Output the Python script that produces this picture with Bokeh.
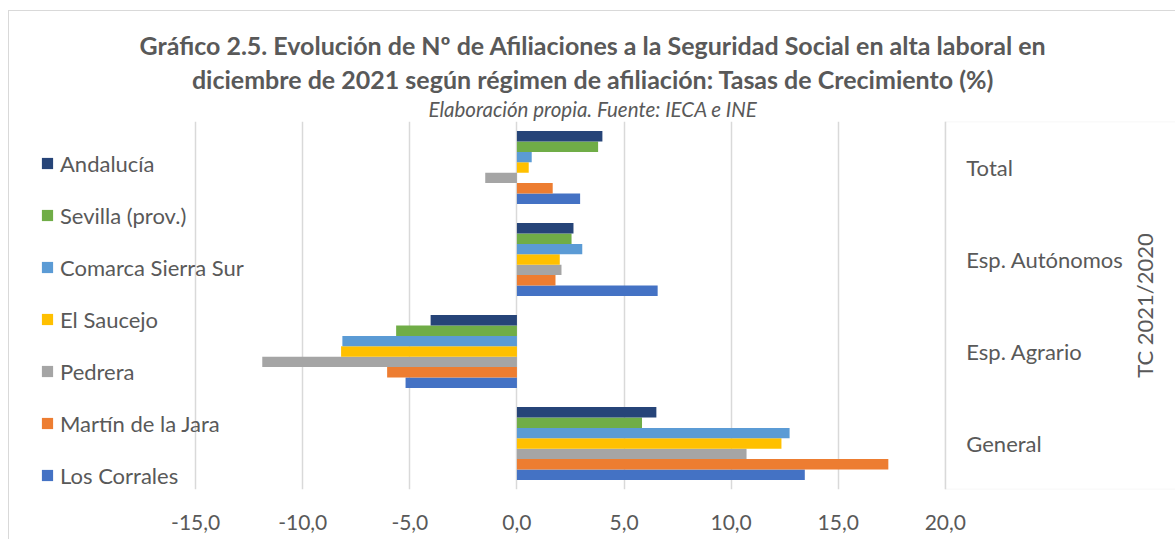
import math
from bokeh.plotting import figure
from bokeh.models import (FactorRange, Range1d, Legend, LegendItem, BoxAnnotation, Title,
                          FixedTicker, ColumnDataSource, Label)
from bokeh.transform import dodge
from bokeh.embed import file_html
from bokeh.resources import INLINE

# ---------------- data ----------------
categories = ["General", "Esp. Agrario", "Esp. Autónomos", "Total"]

series_names = ["Los Corrales", "Martín de la Jara", "Pedrera", "El Saucejo",
                "Comarca Sierra Sur", "Sevilla (prov.)", "Andalucía"]

los_corrales = [13.44, -5.20, 6.57, 2.95]
martin_de_la_jara = [17.34, -6.06, 1.80, 1.67]
pedrera = [10.72, -11.89, 2.08, -1.48]
el_saucejo = [12.35, -8.21, 2.00, 0.55]
comarca_sierra_sur = [12.73, -8.15, 3.05, 0.69]
sevilla_prov = [5.84, -5.64, 2.55, 3.79]
andalucia = [6.51, -4.03, 2.64, 3.99]

series_values = [los_corrales, martin_de_la_jara, pedrera, el_saucejo,
                 comarca_sierra_sur, sevilla_prov, andalucia]

series_colors = ["#4472C4", "#ED7D31", "#A5A5A5", "#FFC000",
                 "#5B9BD5", "#70AD47", "#264478"]

x_ticks = [-15, -10, -5, 0, 5, 10, 15, 20]
x_tick_labels = ["-15,0", "-10,0", "-5,0", "0,0", "5,0", "10,0", "15,0", "20,0"]

title_line1 = "Gráfico 2.5. Evolución de Nº de Afiliaciones a la Seguridad Social en alta laboral en"
title_line2 = "diciembre de 2021 según régimen de afiliación: Tasas de Crecimiento (%)"
subtitle = "Elaboración propia. Fuente: IECA e INE"
axis_title = "TC 2021/2020"

# ---------------- layout / styling ----------------
FONT = "Lato"
TXT = "#595959"
GRID = "#d9d9d9"

W, H = 1167, 529          # figure size (page offset 9, 11 incl. border)
PX_PER_UNIT = 21.4        # horizontal scale
LEFT_PAD = 186            # frame left edge -> first tick
RIGHT_PAD = 231           # last tick -> frame right edge
AXIS_TITLE_PX = 199       # last tick -> rotated axis title centre
x_start = x_ticks[0] - LEFT_PAD / PX_PER_UNIT
x_end = x_ticks[-1] + RIGHT_PAD / PX_PER_UNIT

p = figure(width=W, height=H,
           x_range=Range1d(x_start, x_end),
           y_range=FactorRange(*categories),
           y_axis_location="right",
           output_backend="svg", toolbar_location=None, title=None,
           min_border_left=0, min_border_right=0,
           min_border_top=110, min_border_bottom=51)

p.styles = {"margin-left": "8px", "margin-top": "10px",
            "border-left": "1px solid #d9d9d9", "border-top": "1px solid #d9d9d9"}

src = ColumnDataSource(dict(cat=categories,
                            **{f"s{i}": v for i, v in enumerate(series_values)}))

step = 0.113
renderers = []
n = len(series_names)
for i, (name, color) in enumerate(zip(series_names, series_colors)):
    r = p.hbar(y=dodge("cat", (i - (n - 1) / 2) * step, range=p.y_range),
               left=0, right=f"s{i}", height=step, source=src,
               fill_color=color, line_color=None)
    renderers.append(r)

# box on the right (category label area)
p.add_layout(BoxAnnotation(left=x_ticks[-1], right=x_end + 5,
                           fill_alpha=0, line_color=GRID, line_width=1.5))

legend = Legend(items=[LegendItem(label=series_names[i], renderers=[renderers[i]])
                       for i in reversed(range(n))],
                location=(31, 0.5), orientation="vertical",
                glyph_width=14, glyph_height=14, label_standoff=6,
                label_text_font=FONT, label_text_font_size="22px",
                label_text_color=TXT, label_height=27, spacing=25,
                padding=0, margin=0, border_line_color=None,
                background_fill_alpha=0)
p.add_layout(legend)

# rotated axis title, reading bottom to top, centred on the plot area
p.add_layout(Label(x=x_ticks[-1] + AXIS_TITLE_PX / PX_PER_UNIT, y=len(categories) / 2,
                   text=axis_title, angle=math.pi / 2,
                   text_align="center", text_baseline="middle",
                   text_font=FONT, text_font_size="22px", text_color=TXT))

# titles (added from nearest to frame to farthest)
p.add_layout(Title(text=subtitle, align="center", offset=3,
                   text_font=FONT, text_font_style="italic",
                   text_font_size="20.5px", text_color=TXT, standoff=1), "above")
p.add_layout(Title(text=title_line2, align="center", offset=1,
                   text_font=FONT, text_font_style="bold",
                   text_font_size="25px", text_color=TXT, standoff=2), "above")
p.add_layout(Title(text=title_line1, align="center", offset=1,
                   text_font=FONT, text_font_style="bold",
                   text_font_size="25px", text_color=TXT, standoff=2), "above")

# x axis
p.xaxis.ticker = FixedTicker(ticks=x_ticks)
p.xaxis.major_label_overrides = dict(zip(x_ticks, x_tick_labels))
p.xaxis.axis_line_color = None
p.xaxis.major_tick_line_color = None
p.xaxis.minor_tick_line_color = None
p.xaxis.major_label_standoff = 19
p.xaxis.major_label_text_font = FONT
p.xaxis.major_label_text_font_size = "21px"
p.xaxis.major_label_text_color = TXT

# y axis (right), drawn at x = 20 inside the box
yax = p.yaxis[0]
yax.fixed_location = x_ticks[-1]
yax.axis_line_color = None
yax.major_tick_line_color = None
yax.minor_tick_line_color = None
yax.major_tick_out = 0
yax.major_tick_in = 0
yax.major_label_standoff = 21
yax.major_label_text_font = FONT
yax.major_label_text_font_size = "22px"
yax.major_label_text_color = TXT

p.xgrid.grid_line_color = GRID
p.xgrid.grid_line_width = 1.5
p.ygrid.visible = False
p.outline_line_color = None

open("out.html", "w").write(file_html(p, INLINE))
